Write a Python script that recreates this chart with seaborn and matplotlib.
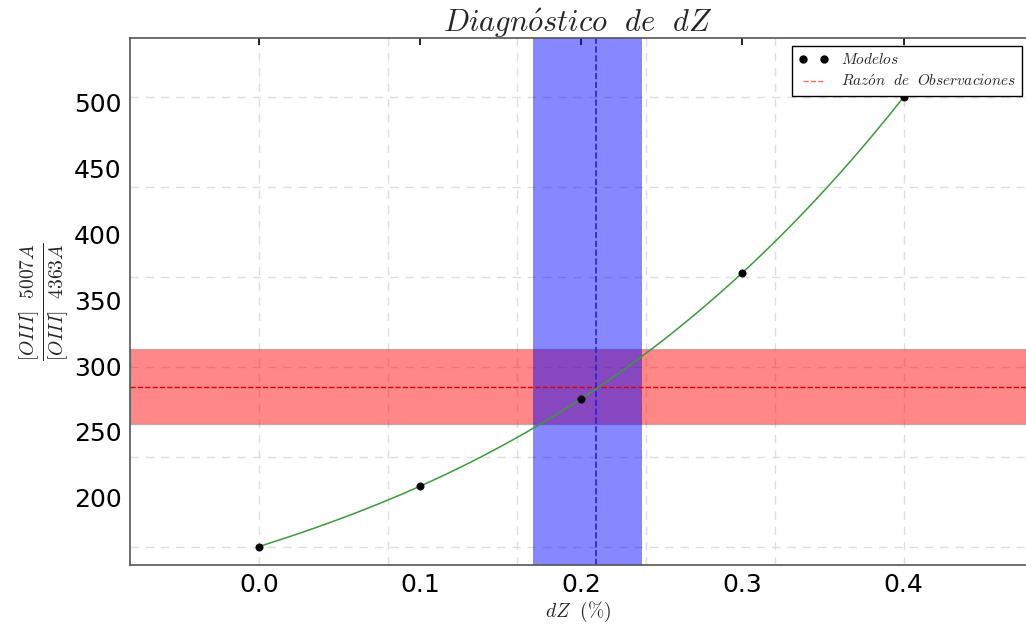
import numpy as np
import pandas as pd
import matplotlib
matplotlib.use("Agg")
import matplotlib.pyplot as plt
from matplotlib.lines import Line2D
import seaborn as sns

# modelos
dz = [0.0, 0.1, 0.2, 0.3, 0.4]
ratio = [163, 209, 275, 371, 504]

# observaciones
obs_ratio = 284
obs_low = 256
obs_high = 313

# dZ estimado
dz_best = 0.209
dz_low = 0.170
dz_high = 0.238

x_ticks = [0.0, 0.1, 0.2, 0.3, 0.4]
y_ticks = [200, 250, 300, 350, 400, 450, 500]

sns.set_style("white")
plt.rcParams["mathtext.fontset"] = "cm"

df = pd.DataFrame({"dZ": dz, "ratio": ratio})

fig = plt.figure(figsize=(10.26, 6.3), dpi=100)
ax = fig.add_axes([130/1026, 65/630, 896/1026, 527/630])

# grid on data-spaced lines
for gx in np.linspace(min(dz), max(dz), 6):
    ax.axvline(gx, color="#dedede", ls=(0, (6, 5)), lw=1, zorder=0)
for gy in np.linspace(min(ratio), max(ratio), 6):
    ax.axhline(gy, color="#dedede", ls=(0, (6, 5)), lw=1, zorder=0)

ax.axhspan(obs_low, obs_high, facecolor="red", alpha=0.47, edgecolor="#888888", lw=1, zorder=1)
ax.axvspan(dz_low, dz_high, facecolor="blue", alpha=0.47, lw=0, zorder=1)
ax.axhline(obs_ratio, color="#dd0000", ls="--", lw=1, zorder=2)
ax.axvline(dz_best, color="#2222dd", ls="--", lw=1.2, zorder=2)

sns.regplot(data=df, x="dZ", y="ratio", order=3, ci=None, scatter=False, ax=ax,
            line_kws=dict(color="#3c9a3c", lw=1.1, zorder=4))
sns.scatterplot(data=df, x="dZ", y="ratio", color="black", s=28, edgecolor="black",
                zorder=5, ax=ax, legend=False)

ax.set_xlim(-0.08, 0.476)
ax.set_ylim(149, 549)
ax.set_xticks(x_ticks)
ax.set_yticks(y_ticks)
ax.tick_params(direction="in", top=True, right=False, labelsize=18, length=5,
               width=1.2, color="black", labelcolor="black", pad=6)
ax.set_xticklabels([f"{v:.1f}" for v in x_ticks])

for s in ["left", "bottom", "top"]:
    ax.spines[s].set_color("#555555")
    ax.spines[s].set_linewidth(1.2)
ax.spines["right"].set_visible(False)

ax.set_title(r"$Diagn\acute{o}stico\ \ de\ \ dZ$", fontsize=22, pad=4)
ax.set_xlabel(r"$dZ\ \ (\%)$", fontsize=14, labelpad=2)
ax.set_ylabel(r"$\frac{[OIII]\ \ 5007A}{[OIII]\ \ 4363A}$", fontsize=20, labelpad=2)

handles = [
    Line2D([], [], ls="", marker="o", color="black", markersize=5),
    Line2D([], [], ls="--", color="#ff6666", lw=1),
]
labels = [r"$Modelos$", r"$Raz\acute{o}n\ \ de\ \ Observaciones$"]
leg = ax.legend(handles, labels, loc="upper right", numpoints=2, fontsize=11,
                fancybox=False, framealpha=1, edgecolor="black",
                bbox_to_anchor=(0.999, 0.99), borderaxespad=0.2, handlelength=2,
                labelspacing=0.4)
leg.get_frame().set_linewidth(1)

fig.savefig("out.png", dpi=100)
